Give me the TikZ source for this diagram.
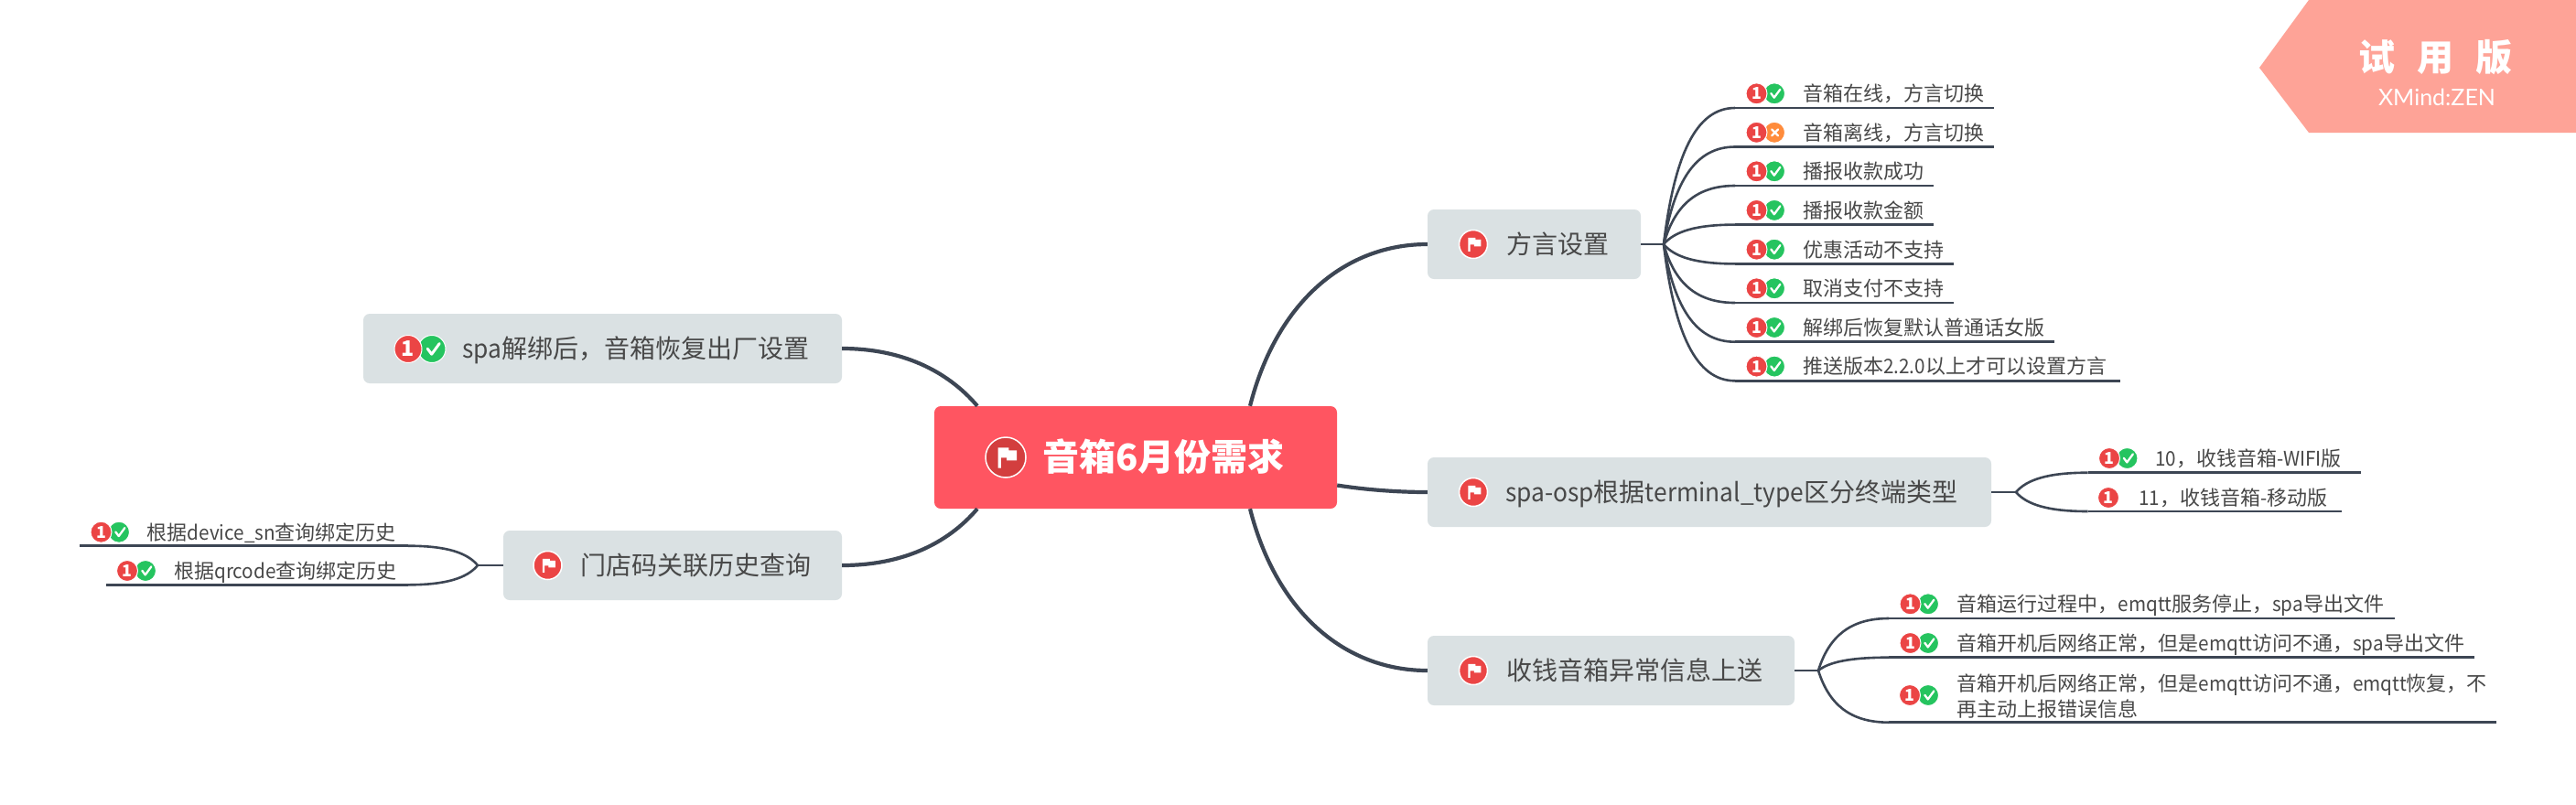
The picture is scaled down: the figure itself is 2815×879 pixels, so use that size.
\documentclass[tikz,border=0pt]{standalone}
\usepackage{fontspec}
\setmainfont{Noto Sans CJK SC}
\newfontfamily\wmfont{Lato}
\newfontfamily\lat{Noto Sans CJK SC}[FakeStretch=0.94]
\usetikzlibrary{calc}
\definecolor{linecol}{HTML}{3D4654}
\definecolor{txtcol}{HTML}{484848}
\definecolor{boxcol}{HTML}{DAE1E3}
\definecolor{rootcol}{HTML}{FF5561}
\definecolor{redcol}{HTML}{EB4545}
\definecolor{greencol}{HTML}{25C45F}
\definecolor{orangecol}{HTML}{FF8C3C}
\definecolor{wmcol}{HTML}{FEA397}
\newcount\iconcnt
\newcommand{\La}[1]{{\lat #1}}
\tikzset{
  x=1pt,y=-1pt,
  rootbox/.style={draw=none,fill=rootcol,rounded corners=7pt,minimum width=440pt,minimum height=112pt,inner sep=0pt},
  topicbox/.style={draw=none,fill=boxcol,rounded corners=7pt,minimum height=76pt,inner sep=0pt},
  topictext/.style={anchor=west,inner sep=0pt,text=txtcol,font=\fontsize{28}{32}\selectfont,text height=21.3pt,text depth=0pt},
  leaftext/.style={anchor=west,inner sep=0pt,text=txtcol,font=\fontsize{22}{28}\selectfont,text height=16.7pt,text depth=0pt},
  wraptext/.style={anchor=west,inner sep=0pt,text=txtcol,font=\fontsize{22}{28.4}\selectfont,align=left},
  mainconn/.style={draw=linecol,line width=4.2pt},
  subconn/.style={draw=linecol,line width=2.6pt},
  iconcirc/.style={circle,inner sep=0pt,draw=white,line width=1pt,text=white},
}
\newcommand{\mkname}{\global\advance\iconcnt by 1 }
\newcommand{\one}[3]{\mkname\pgfmathsetmacro\fsz{#3*1.55}\node[iconcirc,fill=redcol,minimum size=2*#3 pt,font=\fontsize{\fsz}{\fsz}\bfseries\selectfont] (ic\the\iconcnt) at (#1,#2) {1};}
\newcommand{\chk}[3]{\mkname\node[iconcirc,fill=greencol,minimum size=2*#3 pt] (ic\the\iconcnt) at (#1,#2) {};
  \draw[white,line width=0.2*#3 pt,line cap=round,line join=round] (#1-0.32*#3,#2-0.02*#3) -- (#1-0.02*#3,#2+0.38*#3) -- (#1+0.55*#3,#2-0.4*#3);}
\newcommand{\crs}[3]{\mkname\node[iconcirc,fill=orangecol,minimum size=2*#3 pt] (ic\the\iconcnt) at (#1,#2) {};
  \draw[white,line width=0.2*#3 pt,line cap=round] (#1-0.25*#3,#2-0.3*#3) -- (#1+0.35*#3,#2+0.3*#3) (#1-0.25*#3,#2+0.3*#3) -- (#1+0.35*#3,#2-0.3*#3);}
\newcommand{\flagshape}[4]{\mkname\node[circle,inner sep=0pt,draw=white,line width=#4 pt,fill=#3,minimum size=2*22pt] (ic\the\iconcnt) at (#1,#2) {};
  \fill[white] (#1-.38*22,#2-.48*22) -- (#1+.15*22,#2-.48*22) -- (#1+.15*22,#2-.35*22) -- (#1+.55*22,#2-.35*22) -- (#1+.55*22,#2+.15*22) -- (#1+.05*22,#2+.15*22) -- (#1+.05*22,#2+.02*22) -- (#1-.23*22,#2+.02*22) -- (#1-.23*22,#2+.53*22) -- (#1-.38*22,#2+.53*22) -- cycle;}
\newcommand{\flagsmall}[2]{\mkname\node[circle,inner sep=0pt,draw=white,line width=1.5pt,fill=redcol,minimum size=31pt] (ic\the\iconcnt) at (#1,#2) {};
  \fill[white] (#1-.38*15,#2-.48*15) -- (#1+.15*15,#2-.48*15) -- (#1+.15*15,#2-.35*15) -- (#1+.55*15,#2-.35*15) -- (#1+.55*15,#2+.15*15) -- (#1+.05*15,#2+.15*15) -- (#1+.05*15,#2+.02*15) -- (#1-.23*15,#2+.02*15) -- (#1-.23*15,#2+.53*15) -- (#1-.38*15,#2+.53*15) -- cycle;}
\newcommand{\leafline}[4]{\coordinate (#1-l) at (#2,#4); \coordinate (#1-r) at (#3,#4); \draw[subconn] (#1-l) -- (#1-r);}
\newcommand{\leafrc}[7]{\leafline{#1}{#2}{#3}{#4}
  #6{#2+43}{#4-15.7}{11.5}
  \one{#2+23.5}{#4-15.7}{11.5}
  \node[leaftext] (#1) at (#5,#4-15.7) {#7};}
\newcommand{\branch}[2]{\draw[subconn] let \p1=(#1),\p2=(#2) in (#1) .. controls (\x1+.15*\x2-.15*\x1,\y1+.65*\y2-.65*\y1) and (\x1+.45*\x2-.45*\x1,\y2) .. (#2);}
\begin{document}
\begin{tikzpicture}
\useasboundingbox (0,0) rectangle (2815,879);
\fill[white] (0,0) rectangle (2815,879);

% root
\node[rootbox] (root) at (1241,500) {};
\flagshape{1099}{500}{redcol!90!black}{1.5}
\node[anchor=west,inner sep=0pt,text=white,font=\fontsize{40}{44}\bfseries\selectfont,text height=30.4pt,text depth=0pt] (roottext) at (1139,499) {音箱6月份需求};

% topic boxes
\node[topicbox,minimum width=523pt] (t1) at (658.5,381) {};
\node[topicbox,minimum width=370pt] (t2) at (735,618) {};
\node[topicbox,minimum width=233pt] (t3) at (1676.5,267) {};
\node[topicbox,minimum width=616pt] (t4) at (1868,538) {};
\node[topicbox,minimum width=401pt] (t5) at (1760.5,733) {};

% main connectors
\draw[mainconn] (t1.east) .. controls (985,381) and (1035,405) .. ([xshift=-173pt]root.north);
\draw[mainconn] (t2.east) .. controls (985,618) and (1035,595) .. ([xshift=-173pt]root.south);
\draw[mainconn] ([xshift=125pt]root.north) .. controls (1395,330) and (1470,267) .. (t3.west);
\draw[mainconn] ([yshift=-30.5pt]root.east) .. controls (1490,535) and (1525,538) .. (t4.west);
\draw[mainconn] ([xshift=125pt]root.south) .. controls (1395,670) and (1470,733) .. (t5.west);

% topic content
\chk{472}{381.5}{15}\one{446}{381.5}{15}
\node[topictext] (t1t) at (505,381) {\La{spa}解绑后，音箱恢复出厂设置};
\flagsmall{598.5}{618}
\node[topictext] (t2t) at (634,618) {门店码关联历史查询};
\flagsmall{1610}{267}
\node[topictext] (t3t) at (1646,267) {方言设置};
\flagsmall{1610}{538}
\node[topictext] (t4t) at (1645,538) {\La{spa-osp}根据\La{terminal\_type}区分终端类型};
\flagsmall{1610}{733}
\node[topictext] (t5t) at (1646,733) {收钱音箱异常信息上送};

% hubs
\coordinate (h2) at (522,618);
\coordinate (h3) at (1818,267);
\coordinate (h4) at (2203,538);
\coordinate (h5) at (1987,733);
\draw[subconn] (t2.west) -- (h2);
\draw[subconn] (t3.east) -- (h3);
\draw[subconn] (t4.east) -- (h4);
\draw[subconn] (t5.east) -- (h5);

% leaves: dialect
\leafrc{a1}{1896}{2179}{118}{1970}{\chk}{音箱在线，方言切换}
\leafrc{a2}{1896}{2179}{160.5}{1970}{\crs}{音箱离线，方言切换}
\leafrc{a3}{1896}{2113}{203}{1970}{\chk}{播报收款成功}
\leafrc{a4}{1896}{2113}{245.6}{1970}{\chk}{播报收款金额}
\leafrc{a5}{1896}{2135}{288.4}{1970}{\chk}{优惠活动不支持}
\leafrc{a6}{1896}{2135}{331}{1970}{\chk}{取消支付不支持}
\leafrc{a7}{1896}{2245}{373.7}{1970}{\chk}{解绑后恢复默认普通话女版}
\leafrc{a8}{1896}{2317}{416.3}{1970}{\chk}{推送版本\La{2.2.0}以上才可以设置方言}
\branch{h3}{a1-l}
\branch{h3}{a2-l}
\branch{h3}{a3-l}
\branch{h3}{a4-l}
\branch{h3}{a5-l}
\branch{h3}{a6-l}
\branch{h3}{a7-l}
\branch{h3}{a8-l}

% leaves: terminal type
\leafrc{b1}{2281.5}{2580}{516.7}{2355}{\chk}{\La{10}，收钱音箱\La{-WIFI}版}
\leafline{b2}{2281.5}{2559}{559}
\one{2304}{544}{11.5}
\node[leaftext] (b2) at (2337,544) {\La{11}，收钱音箱\La{-}移动版};
\branch{h4}{b1-l}
\branch{h4}{b2-l}

% leaves: exceptions
\leafrc{c1}{2064}{2616.5}{676}{2138.5}{\chk}{音箱运行过程中，\La{emqtt}服务停止，\La{spa}导出文件}
\leafrc{c2}{2064}{2704}{718.7}{2138.5}{\chk}{音箱开机后网络正常，但是\La{emqtt}访问不通，\La{spa}导出文件}
\leafline{c3}{2064}{2728}{789.7}
\chk{2107}{760}{11.5}\one{2087}{760}{11.5}
\node[wraptext] (c3) at (2138.5,761) {音箱开机后网络正常，但是\La{emqtt}访问不通，\La{emqtt}恢复，不\\再主动上报错误信息};
\branch{h5}{c1-l}
\branch{h5}{c2-l}
\branch{h5}{c3-l}

% leaves: left
\leafline{d1}{446}{87}{596.7}
\chk{130}{581.7}{11.5}\one{110.5}{581.7}{11.5}
\node[leaftext] (d1) at (160.5,581.7) {根据\La{device\_sn}查询绑定历史};
\leafline{d2}{446}{116}{639.3}
\chk{159}{624}{11.5}\one{139}{624}{11.5}
\node[leaftext] (d2) at (190,624) {根据\La{qrcode}查询绑定历史};
\branch{h2}{d1-l}
\branch{h2}{d2-l}

% watermark
\fill[wmcol] (2523,0) -- (2469,74) -- (2523,145) -- (2815,145) -- (2815,0) -- cycle;
\node[inner sep=0pt,text=white,font=\fontsize{40}{44}\bfseries\selectfont] (wm1) at (2661,63) {试\hspace{0.6em}用\hspace{0.6em}版};
\node[inner sep=0pt,text=white,font=\wmfont\fontsize{25}{28}\selectfont] (wm2) at (2663,106) {XMind:ZEN};
\end{tikzpicture}
\end{document}
